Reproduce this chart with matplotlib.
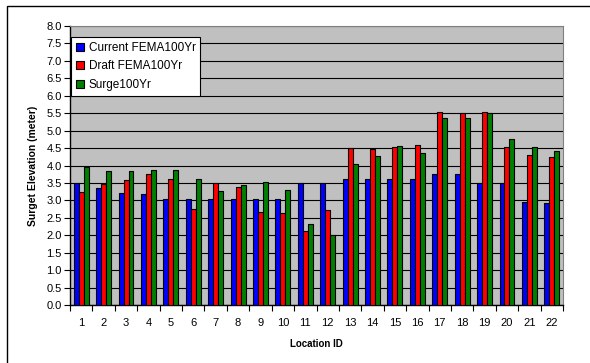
import matplotlib
matplotlib.use("Agg")
import matplotlib.pyplot as plt
import numpy as np
from matplotlib.patches import Rectangle

plt.rcParams['font.family'] = ['Liberation Sans', 'DejaVu Sans']

locations = [str(i) for i in range(1, 23)]
current_fema = [3.51, 3.35, 3.22, 3.17, 3.05, 3.05, 3.05, 3.05, 3.04, 3.03, 3.51,
                3.51, 3.61, 3.61, 3.61, 3.62, 3.75, 3.75, 3.51, 3.51, 2.95, 2.93]
draft_fema = [3.25, 3.48, 3.58, 3.75, 3.61, 2.75, 3.51, 3.39, 2.66, 2.63, 2.11,
              2.72, 4.49, 4.47, 4.53, 4.59, 5.54, 5.51, 5.54, 4.53, 4.30, 4.25]
surge = [3.97, 3.85, 3.85, 3.88, 3.86, 3.61, 3.28, 3.45, 3.52, 3.30, 2.31,
         2.01, 4.05, 4.28, 4.56, 4.36, 5.36, 5.36, 5.51, 4.76, 4.53, 4.43]
series_names = ["Current FEMA100Yr", "Draft FEMA100Yr", "Surge100Yr"]
colors = ["#0000FF", "#FF0000", "#008000"]

fig = plt.figure(figsize=(5.9, 3.63), dpi=100)
ax = fig.add_axes([70/590, 1-305/363, (563-70)/590, (305-26)/363])
ax.set_facecolor("#C0C0C0")

x = np.arange(len(locations))
w = 1/4.5
for i, (vals, name, c) in enumerate(zip([current_fema, draft_fema, surge], series_names, colors)):
    ax.bar(x + (i-1)*w, vals, width=w, color=c, edgecolor="black", linewidth=0.8,
           label=name, zorder=3)

ax.set_xlim(-0.5, len(locations)-0.5)
ax.set_ylim(0, 8)
ax.set_yticks(np.arange(0, 8.01, 0.5))
ax.set_yticklabels([f"{v:.1f}" for v in np.arange(0, 8.01, 0.5)], fontsize=8)
ax.yaxis.grid(True, color="black", linewidth=0.8, zorder=0)
ax.set_axisbelow(True)

ax.set_xticks(x)
ax.set_xticklabels(locations, fontsize=8)
ax.set_xticks(np.arange(-0.5, len(locations), 1), minor=True)
ax.tick_params(axis='x', which='major', length=0, pad=9)
ax.tick_params(axis='x', which='minor', length=4, width=0.8, direction='out')
ax.tick_params(axis='y', length=4, width=0.8, direction='out', pad=2)

for s in ['top', 'right']:
    ax.spines[s].set_color("#808080")
    ax.spines[s].set_linewidth(0.8)
for s in ['left', 'bottom']:
    ax.spines[s].set_color("black")
    ax.spines[s].set_linewidth(1.0)

ax.set_xlabel("Location ID", fontsize=7, fontweight='bold', labelpad=8)
ax.set_ylabel("Surget Elevation (meter)", fontsize=7.5, fontweight='bold', labelpad=6)

leg = ax.legend(loc='upper left', bbox_to_anchor=(0.002, 0.96), borderaxespad=0,
                fontsize=8.5, frameon=True, fancybox=False, framealpha=1,
                edgecolor='black', handlelength=0.7, handleheight=0.7,
                handletextpad=0.4, labelspacing=0.55, borderpad=0.4)
leg.get_frame().set_linewidth(0.8)

fig.patches.append(Rectangle((7/590, -0.1), 1.2, 1-6/363+0.1, transform=fig.transFigure,
                             fill=False, edgecolor='black', linewidth=1.0))

fig.savefig("out.png", dpi=100)
